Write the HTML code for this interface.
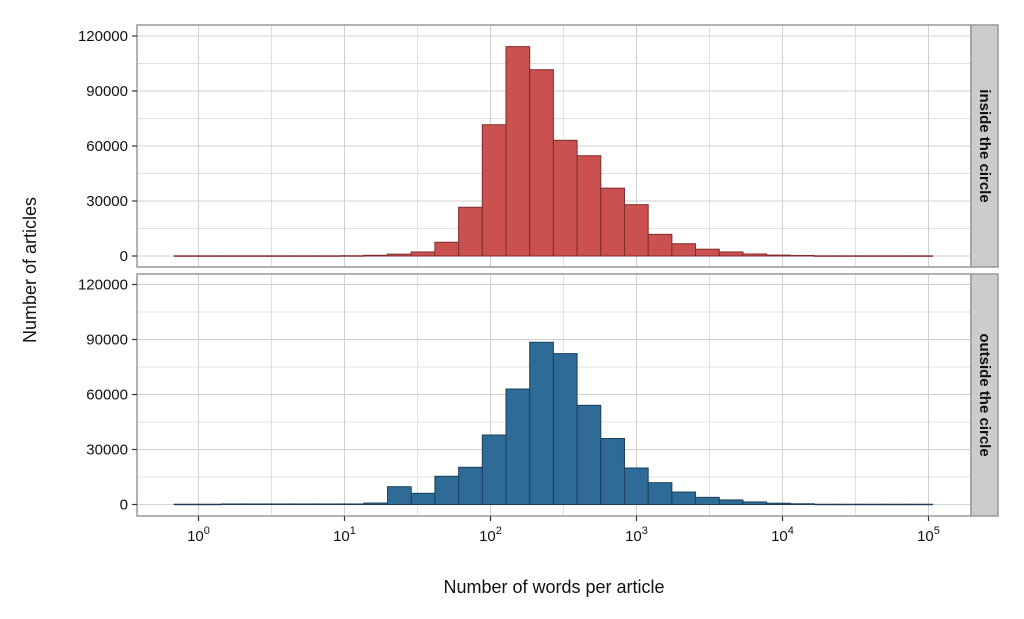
<!DOCTYPE html>
<html><head><meta charset="utf-8"><style>
body{margin:0;background:#fff}
svg{font-family:"Liberation Sans",sans-serif}
</style></head><body>
<svg id="chart" width="1024" height="614" viewBox="0 0 1024 614" xmlns="http://www.w3.org/2000/svg"></svg>
<script>
const panelNames = ["inside the circle","outside the circle"];
const insideCounts = [100,100,100,100,100,100,100,150,400,1000,2200,7500,26600,71600,114200,101600,63100,54700,37000,28000,11800,6700,3700,2200,1100,500,300,100,100,100,100,100];
const outsideCounts = [150,150,300,300,300,300,300,300,800,9700,6100,15400,20300,37900,63000,88500,82300,54100,36000,19900,11900,6800,3900,2500,1400,700,400,150,150,150,150,150];
const yTicks = [0,30000,60000,90000,120000];
const xTickExps = [0,1,2,3,4,5];
const binStartLog = -0.166;
const binWidthLog = 0.1623;

const svg = document.getElementById('chart');
const NS = 'http://www.w3.org/2000/svg';
function mk(tag, attrs, parent){const e=document.createElementNS(NS,tag);for(const k in attrs)e.setAttribute(k,attrs[k]);(parent||svg).appendChild(e);return e;}
const xL=137, xR=971;
const xScale = lg => 198.5 + lg*146;
const panels = [{top:25,bottom:267,y0:256,data:insideCounts,fill:'#cb5150',stroke:'#7e2c2b',name:'inside'},
                {top:274,bottom:516,y0:504.5,data:outsideCounts,fill:'#2e6b97',stroke:'#1d3f5a',name:'outside'}];
const pxPer = 220/120000;
panels.forEach((p,pi)=>{
  const g = mk('g',{});
  
  
  const ys = v => p.y0 - v*pxPer;
  mk('rect',{x:xL,y:p.top,width:xR-xL,height:p.bottom-p.top,fill:'#fff'},g);
  // minor grid
  for(let i=0;i<yTicks.length-1;i++){const yy=ys((yTicks[i]+yTicks[i+1])/2);mk('line',{x1:xL,x2:xR,y1:yy,y2:yy,stroke:'#e0e0e0','stroke-width':1},g);}
  for(let i=0;i<xTickExps.length;i++){const xx=xScale(xTickExps[i]+0.5);if(xx<xR)mk('line',{x1:xx,x2:xx,y1:p.top,y2:p.bottom,stroke:'#e0e0e0','stroke-width':1},g);}
  xTickExps.forEach(e=>{const xx=xScale(e);mk('line',{x1:xx,x2:xx,y1:p.top,y2:p.bottom,stroke:'#d0d0d0','stroke-width':1},g);});
  yTicks.forEach(t=>{const yy=ys(t);mk('line',{x1:xL,x2:xR,y1:yy,y2:yy,stroke:'#d0d0d0','stroke-width':1},g);
    mk('line',{x1:xL-5,x2:xL,y1:yy,y2:yy,stroke:'#333','stroke-width':1.2});
    const tl=mk('text',{x:xL-9,y:yy+5,'text-anchor':'end','font-size':15,fill:'#111'});tl.textContent=t;
    });
  p.data.forEach((v,i)=>{
    const x0=xScale(binStartLog+i*binWidthLog), x1=xScale(binStartLog+(i+1)*binWidthLog);
    const r=mk('rect',{x:x0,y:ys(v),width:x1-x0,height:Math.max(p.y0-ys(v),0.5),fill:p.fill,stroke:p.stroke,'stroke-width':1},g);
    
    
  });
  mk('rect',{x:xL,y:p.top,width:xR-xL,height:p.bottom-p.top,fill:'none',stroke:'#999','stroke-width':1.5},g);
  // strip
  const s=mk('rect',{x:xR,y:p.top,width:27,height:p.bottom-p.top,fill:'#cccccc',stroke:'#999','stroke-width':1.5});
  
  
  const cy=(p.top+p.bottom)/2;
  const st=mk('text',{x:xR+13.5,y:cy,'text-anchor':'middle','font-size':15,'font-weight':'bold',fill:'#111',transform:`rotate(90 ${xR+13.5} ${cy})`,'dominant-baseline':'central'});
  st.textContent=panelNames[pi];
  
  
});
xTickExps.forEach(e=>{const xx=xScale(e);
  mk('line',{x1:xx,x2:xx,y1:516,y2:521,stroke:'#333','stroke-width':1.2});
  const t=mk('text',{x:xx,y:541,'text-anchor':'middle','font-size':15,fill:'#111'});
  t.innerHTML='10<tspan dy="-7" font-size="11">'+e+'</tspan>';
  
  
});
const xt=mk('text',{x:554,y:593,'text-anchor':'middle','font-size':18,fill:'#111'});
xt.textContent='Number of words per article';


const yt=mk('text',{x:36,y:270,'text-anchor':'middle','font-size':18,fill:'#111',transform:'rotate(-90 36 270)'});
yt.textContent='Number of articles';


</script>
</body></html>
